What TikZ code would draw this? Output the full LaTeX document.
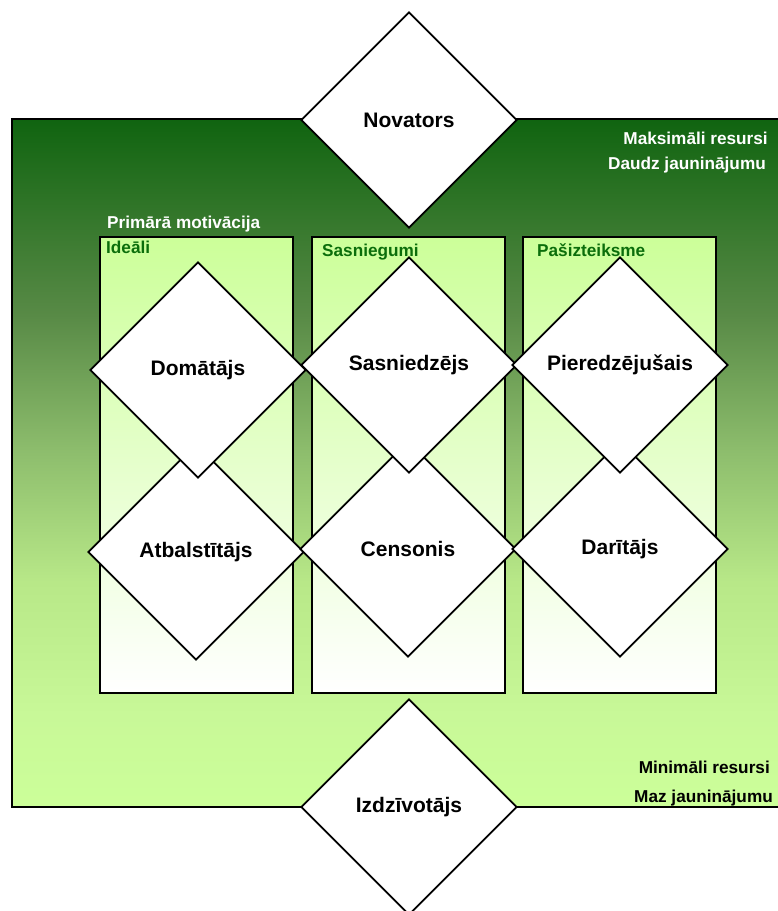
\documentclass[tikz,border=0pt]{standalone}
\usepackage{fontspec}
\setmainfont{Liberation Sans}
\usetikzlibrary{shapes.geometric}

% background ramp: dark green at the top, pale green at the bottom
\definecolor{bgA}{HTML}{106410}
\definecolor{bgB}{HTML}{588A46}
\definecolor{bgC}{HTML}{8CBC6C}
\definecolor{bgD}{HTML}{B8E888}
\definecolor{bgE}{HTML}{C8F898}
\definecolor{bgF}{HTML}{CCFF99}
\definecolor{labelgreen}{HTML}{0B6E0B}
\pgfdeclareverticalshading{bgramp}{100bp}{%
  color(0bp)=(bgF); color(25bp)=(bgF); color(31.7bp)=(bgE);
  color(41.35bp)=(bgD); color(51.09bp)=(bgC); color(60.76bp)=(bgB);
  color(75bp)=(bgA); color(100bp)=(bgA)}

\tikzset{
  facet/.style={shape=diamond, aspect=1, draw=black, fill=white,
    line width=1.8pt, minimum width=216pt, minimum height=216pt,
    inner sep=0pt, font=\bfseries\fontsize{21}{24}\selectfont},
  colbox/.style={rectangle, draw=black, line width=1.8pt,
    top color=bgF, bottom color=white,
    minimum width=193pt, minimum height=456pt, inner sep=0pt},
  boxlabel/.style={anchor=base west, inner sep=0pt, text=labelgreen,
    font=\bfseries\fontsize{17.2}{20}\selectfont},
  notewhite/.style={inner sep=0pt, text=white,
    font=\bfseries\fontsize{17.2}{20}\selectfont},
  noteblack/.style={inner sep=0pt, text=black,
    font=\bfseries\fontsize{17.2}{20}\selectfont},
}

\begin{document}
\begin{tikzpicture}[x=1pt, y=-1pt]
  \useasboundingbox (0,0) rectangle (778,911);

  % large shaded field, open to the right
  \shadedraw[shading=bgramp, line width=1.8pt] (12,119) rectangle (800,807);

  % top and bottom diamonds
  \node[facet] (novators) at (409,120) {Novators};
  \node[facet] (izdz) at (409,807) {Izdzīvotājs};

  % three motivation columns
  \node[colbox] (ideali) at (196.5,465) {};
  \node[colbox] (sasn) at (408.5,465) {};
  \node[colbox] (pasiz) at (619.5,465) {};

  % lower row of diamonds
  \node[facet] (atbal) at (196,552) {Atbalstītājs};
  \node[facet] (censonis) at (408,549) {Censonis};
  \node[facet] (daritajs) at (620,549) {Darītājs};

  % upper row of diamonds
  \node[facet] (domatajs) at (198,370) {Domātājs};
  \node[facet] (sasniedzejs) at (409,365) {Sasniedzējs};
  \node[facet] (pieredz) at (620,365) {Pieredzējušais};

  % column titles
  \node[boxlabel] (tIdeali) at (106,253) {Ideāli};
  \node[boxlabel] (tSasn) at (322,256) {Sasniegumi};
  \node[boxlabel] (tPasiz) at (537,256) {Pašizteiksme};

  % field notes
  \node[notewhite, anchor=base west] (prim) at (107,228) {Primārā motivācija};
  \node[notewhite, anchor=base east] (maks) at (768,144) {Maksimāli resursi};
  \node[notewhite, anchor=base east] (daudz) at (766,169) {Daudz jauninājumu};
  \node[noteblack, anchor=base east] (mini) at (770,773) {Minimāli resursi};
  \node[noteblack, anchor=base east] (maz) at (773,802) {Maz jauninājumu};
\end{tikzpicture}
\end{document}
